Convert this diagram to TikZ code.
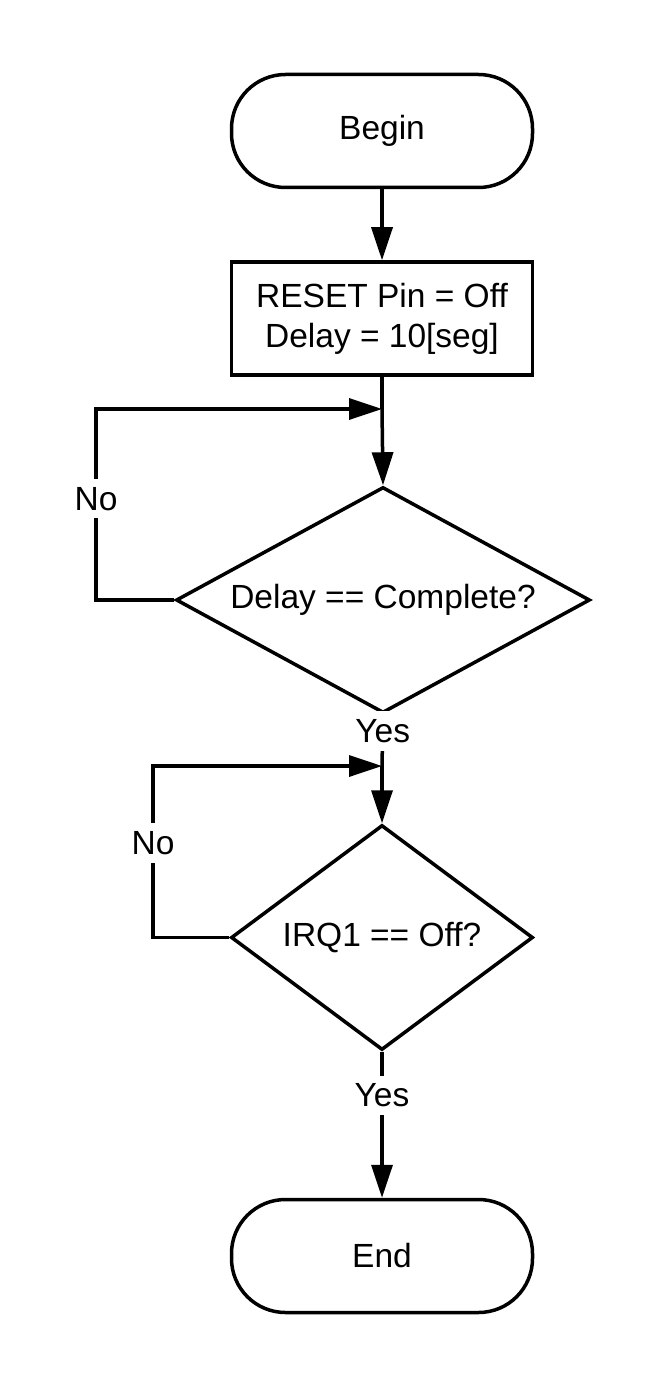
\documentclass[tikz,border=0pt]{standalone}
\usepackage{fontspec}
\setmainfont{Liberation Sans}
\usetikzlibrary{arrows.meta,shapes.geometric}
\begin{document}
\begin{tikzpicture}[x=1pt,y=-1pt,
  every node/.style={font=\fontsize{33.5}{40}\selectfont},
  term/.style={draw, line width=3.5pt, rectangle, rounded corners=54pt, minimum width=301pt, minimum height=113pt, inner sep=0pt},
  proc/.style={draw, line width=3.5pt, rectangle, minimum width=301pt, minimum height=113pt, inner sep=0pt, align=center},
  dec/.style={draw, line width=3.5pt, diamond, inner sep=0pt},
  arr/.style={line width=3.5pt, -{Triangle[length=33pt,width=21pt]}},
  ln/.style={line width=3.5pt},
  lbl/.style={fill=white, inner xsep=3pt, inner ysep=8pt}
]
\useasboundingbox (0,0) rectangle (664,1388);

\node[term] (begin) at (382,131) {Begin};
\node[proc] (reset) at (382,318.5) {RESET Pin = Off\\Delay = 10[seg]};
\node[dec, minimum width=414pt, minimum height=226pt] (d1) at (383,600) {\makebox[0pt]{Delay == Complete?}};
\node[dec, minimum width=302pt, minimum height=225pt] (d2) at (382,937.5) {\makebox[0pt]{IRQ1 == Off?}};
\node[term] (end) at (382,1256) {End};

\coordinate (m1) at (382,409);
\coordinate (c1) at (96,409);
\coordinate (m2) at (382,766);
\coordinate (c2) at (153,766);

\draw[arr] (begin) -- (reset);
\draw[ln] (reset.south) -- (m1);
\draw[arr] (m1) -- (d1.north);
\draw[arr] (d1.west) -| node[lbl, pos=0.765] {No} (c1) -- (m1);

\draw[ln] (d1.south) -- node[lbl, pos=0.32] {Yes} (m2);
\draw[arr] (m2) -- (d2.north);
\draw[arr] (d2.west) -| node[lbl, pos=0.775] {No} (c2) -- (m2);

\draw[arr] (d2.south) -- node[lbl, pos=0.30] {Yes} (end.north);
\end{tikzpicture}
\end{document}
